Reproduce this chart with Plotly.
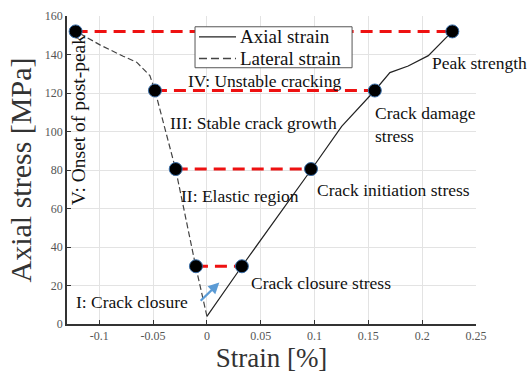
import plotly.graph_objects as go

# Data
axial_strain = [0.0, 0.0325, 0.0967, 0.1252, 0.156, 0.170, 0.187, 0.2057, 0.228]
axial_stress = [4, 30, 80, 102.7, 121.3, 130.6, 134, 139.4, 152]
lateral_strain = [0.0, -0.0102, -0.0290, -0.0483, -0.053, -0.0653, -0.0778, -0.0994, -0.118, -0.122]
lateral_stress = [4, 29.4, 80.2, 121.3, 129, 136, 139.1, 145, 150.9, 152]

# Characteristic points: (lateral strain, axial strain, stress)
pt_lateral = [-0.0102, -0.0290, -0.0483, -0.122]
pt_axial = [0.0325, 0.0967, 0.156, 0.228]
pt_stress = [30, 80.5, 121.3, 152]

xticks = [-0.1, -0.05, 0, 0.05, 0.1, 0.15, 0.2, 0.25]
xticklabels = ["-0.1", "-0.05", "0", "0.05", "0.1", "0.15", "0.2", "0.25"]
yticks = [0, 20, 40, 60, 80, 100, 120, 140, 160]
legend_labels = ["Axial strain", "Lateral strain"]

SERIF = "Liberation Serif"
AX_COLOR = "#222222"
LAT_COLOR = "#444444"
LAT_DASH = "6px,3px"

fig = go.Figure()

# Red dashed horizontal connectors
for i in range(len(pt_stress)):
    fig.add_trace(go.Scatter(
        x=[pt_lateral[i], pt_axial[i]], y=[pt_stress[i], pt_stress[i]],
        mode="lines", line=dict(color="#ee1111", width=3, dash="12px,7px"),
        showlegend=False, hoverinfo="skip"))

fig.add_trace(go.Scatter(x=axial_strain, y=axial_stress, mode="lines",
                         name=legend_labels[0], showlegend=False,
                         line=dict(color=AX_COLOR, width=1.2)))
fig.add_trace(go.Scatter(x=lateral_strain, y=lateral_stress, mode="lines",
                         name=legend_labels[1], showlegend=False,
                         line=dict(color=LAT_COLOR, width=1.2, dash=LAT_DASH)))

# markers
fig.add_trace(go.Scatter(x=pt_lateral + pt_axial, y=pt_stress + pt_stress, mode="markers",
                         marker=dict(color="black", size=13,
                                     line=dict(color="#3a6ea8", width=1)),
                         showlegend=False, hoverinfo="skip"))

ann_font = dict(family=SERIF, size=17.5, color="#111111")
annots = [
    ("IV: Unstable cracking", 0.0534, 126.4, "center"),
    ("III: Stable crack growth", 0.0437, 104.6, "center"),
    ("II: Elastic region", 0.0307, 66.5, "center"),
    ("I: Crack closure", -0.0697, 11.2, "center"),
    ("Crack closure stress", 0.106, 21.3, "center"),
    ("Crack initiation stress", 0.1729, 69.5, "center"),
    ("Crack damage<br>stress", 0.1545, 103.6, "left"),
]
for text, x, y, xa in annots:
    fig.add_annotation(x=x, y=y, text=text, showarrow=False, xanchor=xa,
                       yanchor="middle", font=ann_font, align="left")

fig.add_annotation(x=-0.1199, y=105.8, text="V: Onset of post-peak", showarrow=False,
                   textangle=-90, xanchor="center", yanchor="middle",
                   font=dict(family=SERIF, size=19.5, color="#111111"))

# Peak strength lies past the right edge of the axes -> paper coordinates
fig.add_annotation(x=1.0086, y=0.8476, xref="paper", yref="paper", text="Peak strength",
                   xanchor="center", yanchor="middle", showarrow=False, font=ann_font)

# blue arrow
fig.add_annotation(x=0.0115, y=21.5, ax=-0.0072, ay=11.3, xref="x", yref="y",
                   axref="x", ayref="y", showarrow=True, arrowhead=2,
                   arrowsize=1, arrowwidth=2.2, arrowcolor="#5b9bd5", text="")

# Legend box (drawn manually to match the compact reference legend)
fig.add_shape(type="rect", xref="paper", yref="paper", x0=0.313, x1=0.697,
              y0=0.832, y1=0.965, line=dict(color="#555555", width=1),
              fillcolor="white", layer="above")
leg_rows = [0.932, 0.862]
leg_styles = [dict(color=AX_COLOR, width=1.3), dict(color=LAT_COLOR, width=1.3, dash="8px,4px")]
for row_y, style, label in zip(leg_rows, leg_styles, legend_labels):
    fig.add_shape(type="line", xref="paper", yref="paper", x0=0.3227, x1=0.4132,
                  y0=row_y, y1=row_y, line=style, layer="above")
    fig.add_annotation(x=0.4185, y=row_y, xref="paper", yref="paper", text=label,
                       showarrow=False, xanchor="left", yanchor="middle",
                       font=dict(family=SERIF, size=19, color="#111111"))

fig.update_layout(
    width=530, height=378,
    margin=dict(l=67, r=54, t=9, b=54),
    paper_bgcolor="white", plot_bgcolor="white",
    font=dict(family=SERIF),
    showlegend=False,
    xaxis=dict(range=[-0.13, 0.25], tickvals=xticks, ticktext=xticklabels,
               showgrid=True, gridcolor="#e3e3e3", gridwidth=1,
               zeroline=False, showline=True, linecolor="#333333", linewidth=1.5,
               ticks="inside", ticklen=4, tickcolor="#333333",
               tickfont=dict(family=SERIF, size=12, color="#555555"),
               title=dict(text="Strain [%]", font=dict(family=SERIF, size=27, color="#333333"),
                          standoff=5)),
    yaxis=dict(range=[0, 160], tickvals=yticks,
               showgrid=True, gridcolor="#e3e3e3", gridwidth=1,
               zeroline=False, showline=True, linecolor="#333333", linewidth=1.5,
               ticks="inside", ticklen=4, tickcolor="#333333",
               tickfont=dict(family=SERIF, size=12, color="#555555"),
               title=dict(text="Axial stress [MPa]", font=dict(family=SERIF, size=30, color="#333333"),
                          standoff=4)),
)

fig.write_html("out.html")
